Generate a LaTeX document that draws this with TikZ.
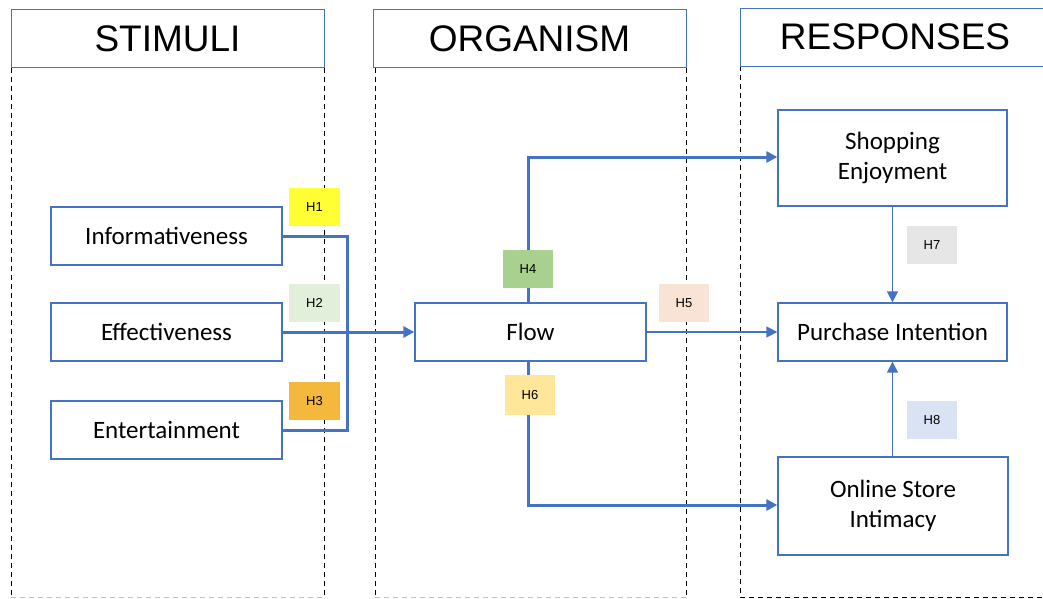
\documentclass[tikz,border=0pt]{standalone}
\usepackage{fontspec}
\setmainfont{Carlito}
\newfontfamily\arialf{Liberation Sans}
\usetikzlibrary{arrows.meta}
\definecolor{bl}{HTML}{4472C4}
\definecolor{cHa}{HTML}{FFFF33}
\definecolor{cHb}{HTML}{E2EFDA}
\definecolor{cHc}{HTML}{F4B93C}
\definecolor{cHd}{HTML}{A9D08E}
\definecolor{cHe}{HTML}{F8E3D4}
\definecolor{cHf}{HTML}{FFE699}
\definecolor{cHg}{HTML}{E7E6E6}
\definecolor{cHh}{HTML}{DAE3F3}
\tikzset{
  hdr/.style={draw=bl, line width=1pt, fill=white, font=\arialf\fontsize{37}{40}\selectfont, inner sep=0pt},
  cbox/.style={draw=bl, line width=1.3pt, fill=white, font=\fontsize{25}{30}\selectfont, align=center, inner sep=0pt},
  hlab/.style={font=\arialf\fontsize{13}{14}\selectfont, inner sep=0pt, minimum width=51pt, minimum height=38pt},
  colline/.style={black, line width=0.9pt, dash pattern=on 5pt off 4pt},
  tconn/.style={draw=bl, line width=3pt},
  nconn/.style={draw=bl, line width=1.4pt},
  arr/.style={-{Triangle[length=11pt,width=11pt]}},
}
\begin{document}
\begin{tikzpicture}[x=1pt,y=-1pt]
\useasboundingbox (0,0) rectangle (1043,599);
% columns
\draw[colline] (11,68) -- (11,597);
\draw[colline] (324,68) -- (324,597);
\draw[colline, black!25] (11,597) -- (324,597);
\draw[colline] (375,68) -- (375,597);
\draw[colline] (686,68) -- (686,597);
\draw[colline, black!25] (375,597) -- (686,597);
\draw[colline] (740,66) -- (740,597) -- (1043,597);
\node[hdr, minimum width=313pt, minimum height=58pt] (hs) at (167.5,39) {STIMULI};
\node[hdr, minimum width=313pt, minimum height=58pt] (ho) at (529.5,39) {ORGANISM};
\node[hdr, minimum width=310pt, minimum height=58pt, anchor=north west] (hr) at (740,8) {};
\node[font=\arialf\fontsize{37}{40}\selectfont] (hrt) at (895,37) {RESPONSES};
% boxes
\node[cbox, minimum width=231pt, minimum height=58pt] (inf) at (166.5,236) {Informativeness};
\node[cbox, minimum width=231pt, minimum height=58pt] (eff) at (166.5,332) {Effectiveness};
\node[cbox, minimum width=231pt, minimum height=58pt] (ent) at (166.5,430) {Entertainment};
\node[cbox, minimum width=231pt, minimum height=58pt] (flow) at (530.5,332) {Flow};
\node[cbox, minimum width=229pt, minimum height=96pt] (se) at (892.5,158) {\raisebox{-2pt}{Shopping}\\\raisebox{-2pt}{Enjoyment}};
\node[cbox, minimum width=229pt, minimum height=58pt] (pi) at (892.5,332) {Purchase Intention};
\node[cbox, minimum width=230pt, minimum height=98pt] (osi) at (893,506) {\raisebox{-2pt}{Online Store}\\\raisebox{-2pt}{Intimacy}};
% coordinates
\coordinate (b1) at (347,236);
\coordinate (b2) at (347,430);
\coordinate (f4) at (528,157);
\coordinate (f6) at (528,505);
% connectors
\draw[tconn, line join=miter] (inf.east) -- (b1) -- (b2) -- (ent.east);
\draw[tconn, arr] (eff.east) -- (flow.west);
\draw[tconn, arr] (flow.north -| f4) -- (f4) -- (se.west |- f4);
\draw[tconn, arr] (flow.south -| f6) -- (f6) -- (osi.west |- f6);
\draw[nconn, arr] (flow.east) -- (pi.west);
\draw[nconn, arr] (se.south -| pi.north) -- (pi.north);
\draw[nconn, arr] (osi.north -| pi.south) -- (pi.south);
% hypothesis labels
\node[hlab, fill=cHa] (h1) at (314.5,207) {H1};
\node[hlab, fill=cHb] (h2) at (314.5,303) {H2};
\node[hlab, fill=cHc] (h3) at (314.5,401) {H3};
\node[hlab, fill=cHd, minimum width=50pt] (h4) at (528,269) {H4};
\node[hlab, fill=cHe, minimum width=50pt] (h5) at (684,303) {H5};
\node[hlab, fill=cHf, minimum width=50pt, minimum height=40pt] (h6) at (530,395) {H6};
\node[hlab, fill=cHg, minimum width=50pt] (h7) at (932,245) {H7};
\node[hlab, fill=cHh, minimum width=50pt] (h8) at (932,420) {H8};
\end{tikzpicture}
\end{document}
